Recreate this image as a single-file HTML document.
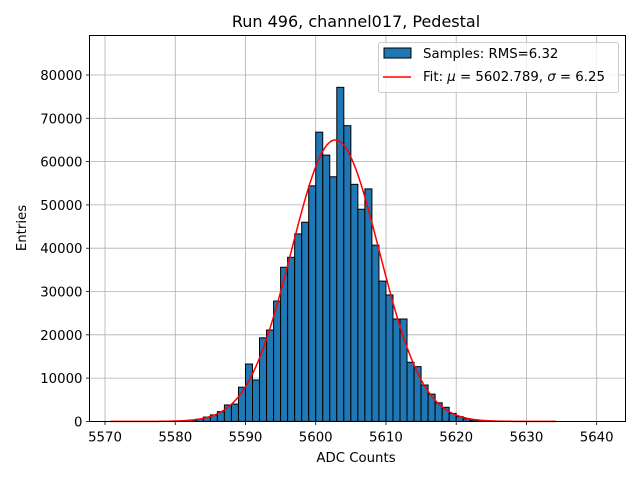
<!DOCTYPE html>
<html><head><meta charset="utf-8"><style>
body{margin:0;background:#fff;}
svg text{font-family:"DejaVu Sans","Liberation Sans",sans-serif;fill:#000;}
</style></head><body>
<svg id="c" width="640" height="480" xmlns="http://www.w3.org/2000/svg"></svg>
<script>
const binStarts=[5580,5581,5582,5583,5584,5585,5586,5587,5588,5589,5590,5591,5592,5593,5594,5595,5596,5597,5598,5599,5600,5601,5602,5603,5604,5605,5606,5607,5608,5609,5610,5611,5612,5613,5614,5615,5616,5617,5618,5619,5620,5621,5622,5623,5624];
const counts=[50,150,300,550,1000,1500,2250,3800,4000,7900,13250,9560,19300,21100,27800,35600,37900,43300,46000,54400,66800,61500,56500,77150,68300,54750,49000,53700,40700,32400,29200,23650,23650,13650,12650,8400,6300,4300,3250,1850,1100,600,300,150,50];
const xTicks=[5570,5580,5590,5600,5610,5620,5630,5640];
const yTicks=[0,10000,20000,30000,40000,50000,60000,70000,80000];
const fitMu=5602.789, fitSigma=6.25, fitAmp=65000, fitMin=5570.8, fitMax=5634.2;
const L=89.5,R=625.5,T=35.5,B=421.5;
const X=v=>105+(v-5570)*7.024;
const Y=v=>421.4-v*0.00433;
const svg=document.getElementById('c');
const NS='http://www.w3.org/2000/svg';
function mk(tag,attrs,parent){const e=document.createElementNS(NS,tag);for(const k in attrs)e.setAttribute(k,attrs[k]);(parent||svg).appendChild(e);return e;}
xTicks.forEach(t=>{const l=mk('line',{x1:X(t),x2:X(t),y1:T,y2:B,stroke:'#b0b0b0','stroke-width':0.8});

});
yTicks.forEach(t=>{const l=mk('line',{x1:L,x2:R,y1:Y(t),y2:Y(t),stroke:'#b0b0b0','stroke-width':0.8});

});
binStarts.forEach((b,i)=>{const r=mk('rect',{x:X(b),y:Y(counts[i]),width:X(b+1)-X(b),height:Y(0)-Y(counts[i]),fill:'#1f77b4',stroke:'#000','stroke-width':1});

});
let d='';for(let i=0;i<=300;i++){const v=fitMin+(fitMax-fitMin)*i/300;const c=fitAmp*Math.exp(-0.5*((v-fitMu)/fitSigma)**2);d+=(i?'L':'M')+X(v).toFixed(2)+' '+Y(c).toFixed(2);}
const fl=mk('path',{d:d,fill:'none',stroke:'#ff0000','stroke-width':1.5});


const fr=mk('rect',{x:L,y:T,width:R-L,height:B-T,fill:'none',stroke:'#000','stroke-width':1});


xTicks.forEach(t=>{mk('line',{x1:X(t),x2:X(t),y1:B,y2:B+3.5,stroke:'#000','stroke-width':0.8});
const tx=mk('text',{x:X(t),y:B+20,'text-anchor':'middle','font-size':13.3});tx.textContent=t;

});
yTicks.forEach(t=>{mk('line',{x1:L,x2:L-3.5,y1:Y(t),y2:Y(t),stroke:'#000','stroke-width':0.8});
const tx=mk('text',{x:L-7,y:Y(t)+5,'text-anchor':'end','font-size':13.3});tx.textContent=t;

});
</script>
<svg width="640" height="480" style="position:absolute;left:0;top:0" xmlns="http://www.w3.org/2000/svg">
<text x="356" y="27" text-anchor="middle" font-size="16">Run 496, channel017, Pedestal</text>
<text x="356" y="462" text-anchor="middle" font-size="13.3">ADC Counts</text>
<text x="26" y="228" text-anchor="middle" font-size="13.3" transform="rotate(-90 26 228)">Entries</text>
<g>
<rect x="378.5" y="42.5" width="240" height="50" rx="2" fill="#fff" fill-opacity="0.8" stroke="#ccc"/>
<rect x="384" y="48" width="27" height="10" fill="#1f77b4" stroke="#000"/>
<text x="423" y="58" font-size="13.3">Samples: RMS=6.32</text>
<line x1="383" x2="411" y1="77" y2="77" stroke="#ff0000" stroke-width="1.5"/>
<text x="423" y="81" font-size="13.3">Fit: <tspan font-style="italic">μ</tspan> = 5602.789, <tspan font-style="italic">σ</tspan> = 6.25</text>
</g>
</svg>
</body></html>
